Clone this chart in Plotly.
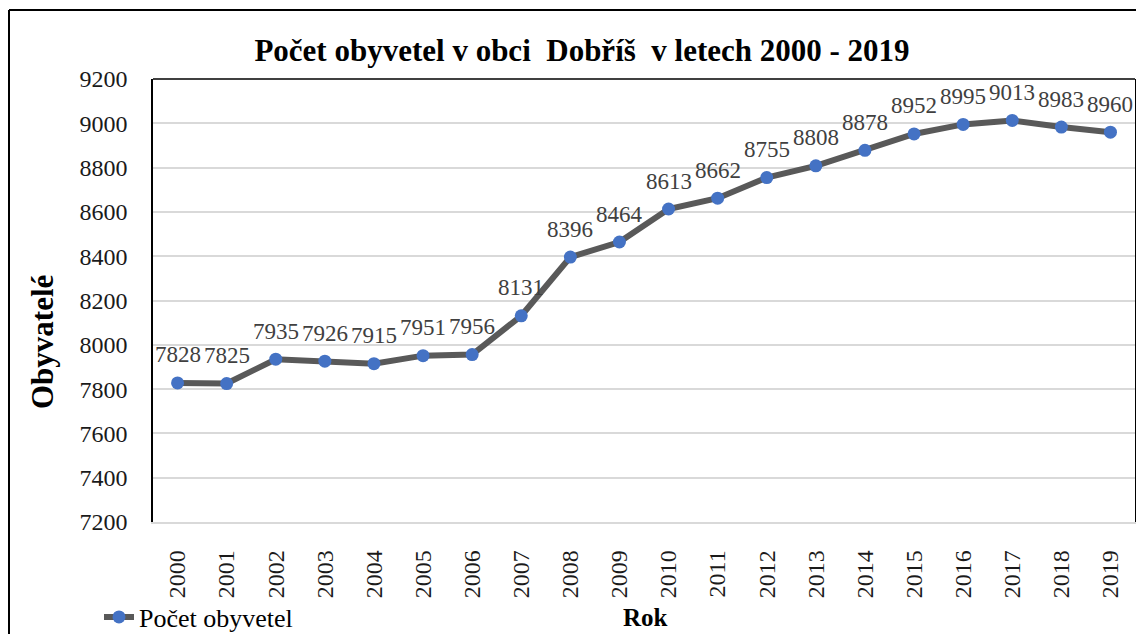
import plotly.graph_objects as go

years = [str(y) for y in range(2000, 2020)]
population = [7828, 7825, 7935, 7926, 7915, 7951, 7956, 8131, 8396, 8464,
              8613, 8662, 8755, 8808, 8878, 8952, 8995, 9013, 8983, 8960]
y_ticks = list(range(7200, 9201, 200))

SERIF = "Liberation Serif"
OFF = 8  # page body margin: the figure is drawn 8px from the window's corner
W, H = 1144 - OFF, 634 - OFF
PL, PR, PT, PB = 153, 1135, 79, 522  # plot area edges in window pixels
L, R, T, B = PL - OFF, W - (PR - OFF), PT - OFF, H - (PB - OFF)
pw, ph = W - L - R, H - T - B

def px_x(x):
    return (x - OFF - L) / pw

def px_y(y):
    return (H - B - (y - OFF)) / ph

fig = go.Figure()
fig.add_trace(go.Scatter(
    x=years, y=population, mode="lines+markers", name="Počet obyvetel",
    line=dict(color="#595959", width=6),
    marker=dict(color="#4472C4", size=13),
    cliponaxis=False,
))

for i, v in enumerate(population):
    fig.add_annotation(x=i, y=v, xref="x", yref="y", text=str(v), showarrow=False,
                       yshift=28, xanchor="center", yanchor="middle",
                       font=dict(family=SERIF, size=23, color="#404040"))

fig.update_layout(
    width=W, height=H,
    margin=dict(l=L, r=R, t=T, b=B, autoexpand=False),
    paper_bgcolor="white", plot_bgcolor="white",
    font=dict(family=SERIF, color="#000000"),
    title=dict(text="<b>Počet obyvetel v obci\u00a0 Dobříš\u00a0 v letech 2000 - 2019</b>",
               x=(582 - OFF) / W, xref="container", xanchor="center",
               y=1 - (50 - OFF) / H, yref="container", yanchor="middle",
               font=dict(family=SERIF, size=31, color="#000000")),
    showlegend=True,
    legend=dict(orientation="h", x=px_x(99), y=px_y(617), xanchor="left", yanchor="middle",
                font=dict(family=SERIF, size=26, color="#000000"),
                bgcolor="rgba(0,0,0,0)"),
    xaxis=dict(type="category", range=[-0.5, 19.5], tickangle=-90,
               tickfont=dict(family=SERIF, size=24, color="#1a1a1a"),
               showgrid=False, showline=True, linecolor="#d9d9d9", linewidth=1.5,
               ticks="", ticklabelstandoff=17),
    yaxis=dict(range=[7200, 9200], tickvals=y_ticks, ticktext=[str(t) for t in y_ticks],
               tickfont=dict(family=SERIF, size=24, color="#1a1a1a"),
               showgrid=True, gridcolor="#d9d9d9", gridwidth=1.5,
               showline=True, linecolor="#000000", linewidth=1.5, mirror=True,
               zeroline=False, ticks="", ticklabelstandoff=19),
)

# Top edge of the plot frame
fig.add_shape(type="line", xref="paper", yref="paper", x0=0, x1=1, y0=1, y1=1,
              line=dict(color="#000000", width=1.5))
# Outer chart border (left and top edges; right/bottom fall outside the picture)
fig.add_shape(type="line", xref="paper", yref="paper",
              x0=px_x(9), x1=px_x(9), y0=px_y(650), y1=px_y(10),
              line=dict(color="#000000", width=2), layer="above")
fig.add_shape(type="line", xref="paper", yref="paper",
              x0=px_x(9), x1=px_x(1150), y0=px_y(10), y1=px_y(10),
              line=dict(color="#000000", width=2), layer="above")

# Axis titles
fig.add_annotation(xref="paper", yref="paper", x=px_x(645), y=px_y(617),
                   text="<b>Rok</b>", showarrow=False, xanchor="center", yanchor="middle",
                   font=dict(family=SERIF, size=25, color="#000000"))
fig.add_annotation(xref="paper", yref="paper", x=px_x(42), y=px_y(342),
                   text="<b>Obyvatelé</b>", showarrow=False, textangle=-90,
                   xanchor="center", yanchor="middle",
                   font=dict(family=SERIF, size=31, color="#000000"))

fig.write_html("out.html")
